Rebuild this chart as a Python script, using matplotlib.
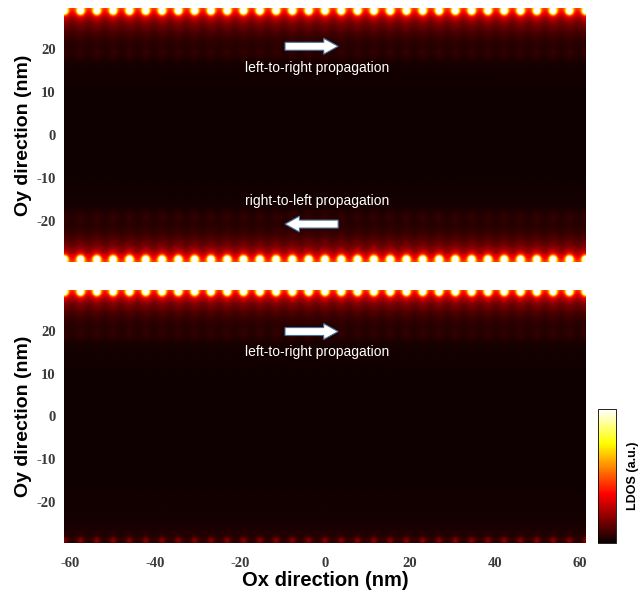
"""
LDOS maps of a ribbon: edge states on both edges (top) and on one edge (bottom).
"""

import matplotlib
matplotlib.use("Agg")
import matplotlib.pyplot as plt
import numpy as np
from matplotlib.patches import FancyArrow

# ribbon geometry (nm)
X_EXTENT = (-61.4, 61.4)
Y_EXTENT = (-29.5, 29.5)
N_SITES = 33

# edge-state model parameters, one entry per panel: [top edge, bottom edge]
EDGE_AMP = [[1.0, 1.0], [1.0, 0.1]]
BAND_AMP = 0.5
BAND_DECAY = 3.3
STRIPE_MOD = 0.1
DOT_AMP = 1.1
DOT_SIGMA = 0.5
DOT_OFFSET = 0.6
HALO_AMP = 0.2
HALO_SIGMA = 0.9
ROW2_AMP = 0.03
ROW2_DEPTH = 10.5
ROW2_SIGMA = 1.1
BACKGROUND = 0.01

Y_TICKS = [-20, -10, 0, 10, 20]
X_TICKS = [-60, -40, -20, 0, 20, 40, 60]

# annotations: (panel, text, text_x, text_y, arrow_start, arrow_end, arrow_y)
LABELS = [
    (0, "left-to-right propagation", -1.9, 15.6, -9.4, 3.1, 20.6),
    (0, "right-to-left propagation", -1.9, -15.4, 3.1, -9.4, -20.7),
    (1, "left-to-right propagation", -1.9, 15.1, -9.4, 3.1, 19.8),
]


def edge_field(xx, dist, sites, amp):
    phase = 2 * np.pi * (xx - sites[0]) / (sites[1] - sites[0])
    band = BAND_AMP * np.exp(-dist / BAND_DECAY) * (1 - STRIPE_MOD + STRIPE_MOD * np.cos(phase))
    dots = np.zeros_like(xx)
    for xs in sites:
        r2 = (xx - xs) ** 2 + (dist - DOT_OFFSET) ** 2
        dots += DOT_AMP * np.exp(-r2 / (2 * DOT_SIGMA ** 2))
        dots += HALO_AMP * np.exp(-r2 / (2 * HALO_SIGMA ** 2))
        r2b = (xx - xs) ** 2 + (dist - ROW2_DEPTH) ** 2
        dots += ROW2_AMP * np.exp(-r2b / (2 * ROW2_SIGMA ** 2))
    return amp * (band + dots)


def build_ldos(amps):
    x = np.linspace(*X_EXTENT, 900)
    y = np.linspace(*Y_EXTENT, 440)
    xx, yy = np.meshgrid(x, y)
    sites = np.linspace(*X_EXTENT, N_SITES)
    z = BACKGROUND + edge_field(xx, Y_EXTENT[1] - yy, sites, amps[0])
    z += edge_field(xx, yy - Y_EXTENT[0], sites, amps[1])
    return np.clip(z, 0, 1)


fig = plt.figure(figsize=(6.43, 5.94), dpi=100)
ax_top = fig.add_axes([0.0995, 0.559, 0.8118, 0.4276])
ax_bot = fig.add_axes([0.0995, 0.0859, 0.8118, 0.426])
cax = fig.add_axes([0.930, 0.0859, 0.028, 0.2256])

tick_font = dict(family="Liberation Serif", weight="bold", size=10.5)
label_font = dict(family="Liberation Sans", weight="bold", size=14)

im = None
for i, ax in enumerate([ax_top, ax_bot]):
    im = ax.imshow(build_ldos(EDGE_AMP[i]), cmap="hot", vmin=0, vmax=1,
                   extent=[*X_EXTENT, *Y_EXTENT], origin="lower",
                   aspect="auto", interpolation="bilinear")
    ax.set_yticks(Y_TICKS)
    ax.set_yticklabels([str(t) for t in Y_TICKS], color="#3a3a3a", **tick_font)
    ax.tick_params(length=0, pad=6)
    for s in ax.spines.values():
        s.set_visible(False)
    ax.set_ylabel("Oy direction (nm)", labelpad=3, **label_font)

ax_top.set_xticks([])
ax_bot.set_xticks(X_TICKS)
ax_bot.set_xticklabels([str(t) for t in X_TICKS], color="#3a3a3a", **tick_font)
ax_bot.tick_params(axis="x", pad=10)
ax_bot.set_xlabel("Ox direction (nm)", labelpad=1, size=14.5,
                  family="Liberation Sans", weight="bold")

axes = [ax_top, ax_bot]
for panel, text, tx, ty, xa, xb, ya in LABELS:
    ax = axes[panel]
    ax.text(tx, ty, text, color="white", ha="center", va="center",
            family="Liberation Sans", size=10)
    ax.add_patch(FancyArrow(xa, ya, xb - xa, 0, width=1.85, head_width=3.7,
                            head_length=3.4, length_includes_head=True,
                            facecolor="white", edgecolor="#41719c", lw=0.8))

cb = fig.colorbar(im, cax=cax)
cb.set_ticks([])
cb.outline.set_linewidth(0.6)
cb.set_label("LDOS (a.u.)", family="Liberation Sans", weight="bold", size=9, labelpad=8)

fig.savefig("out.png", dpi=100)
